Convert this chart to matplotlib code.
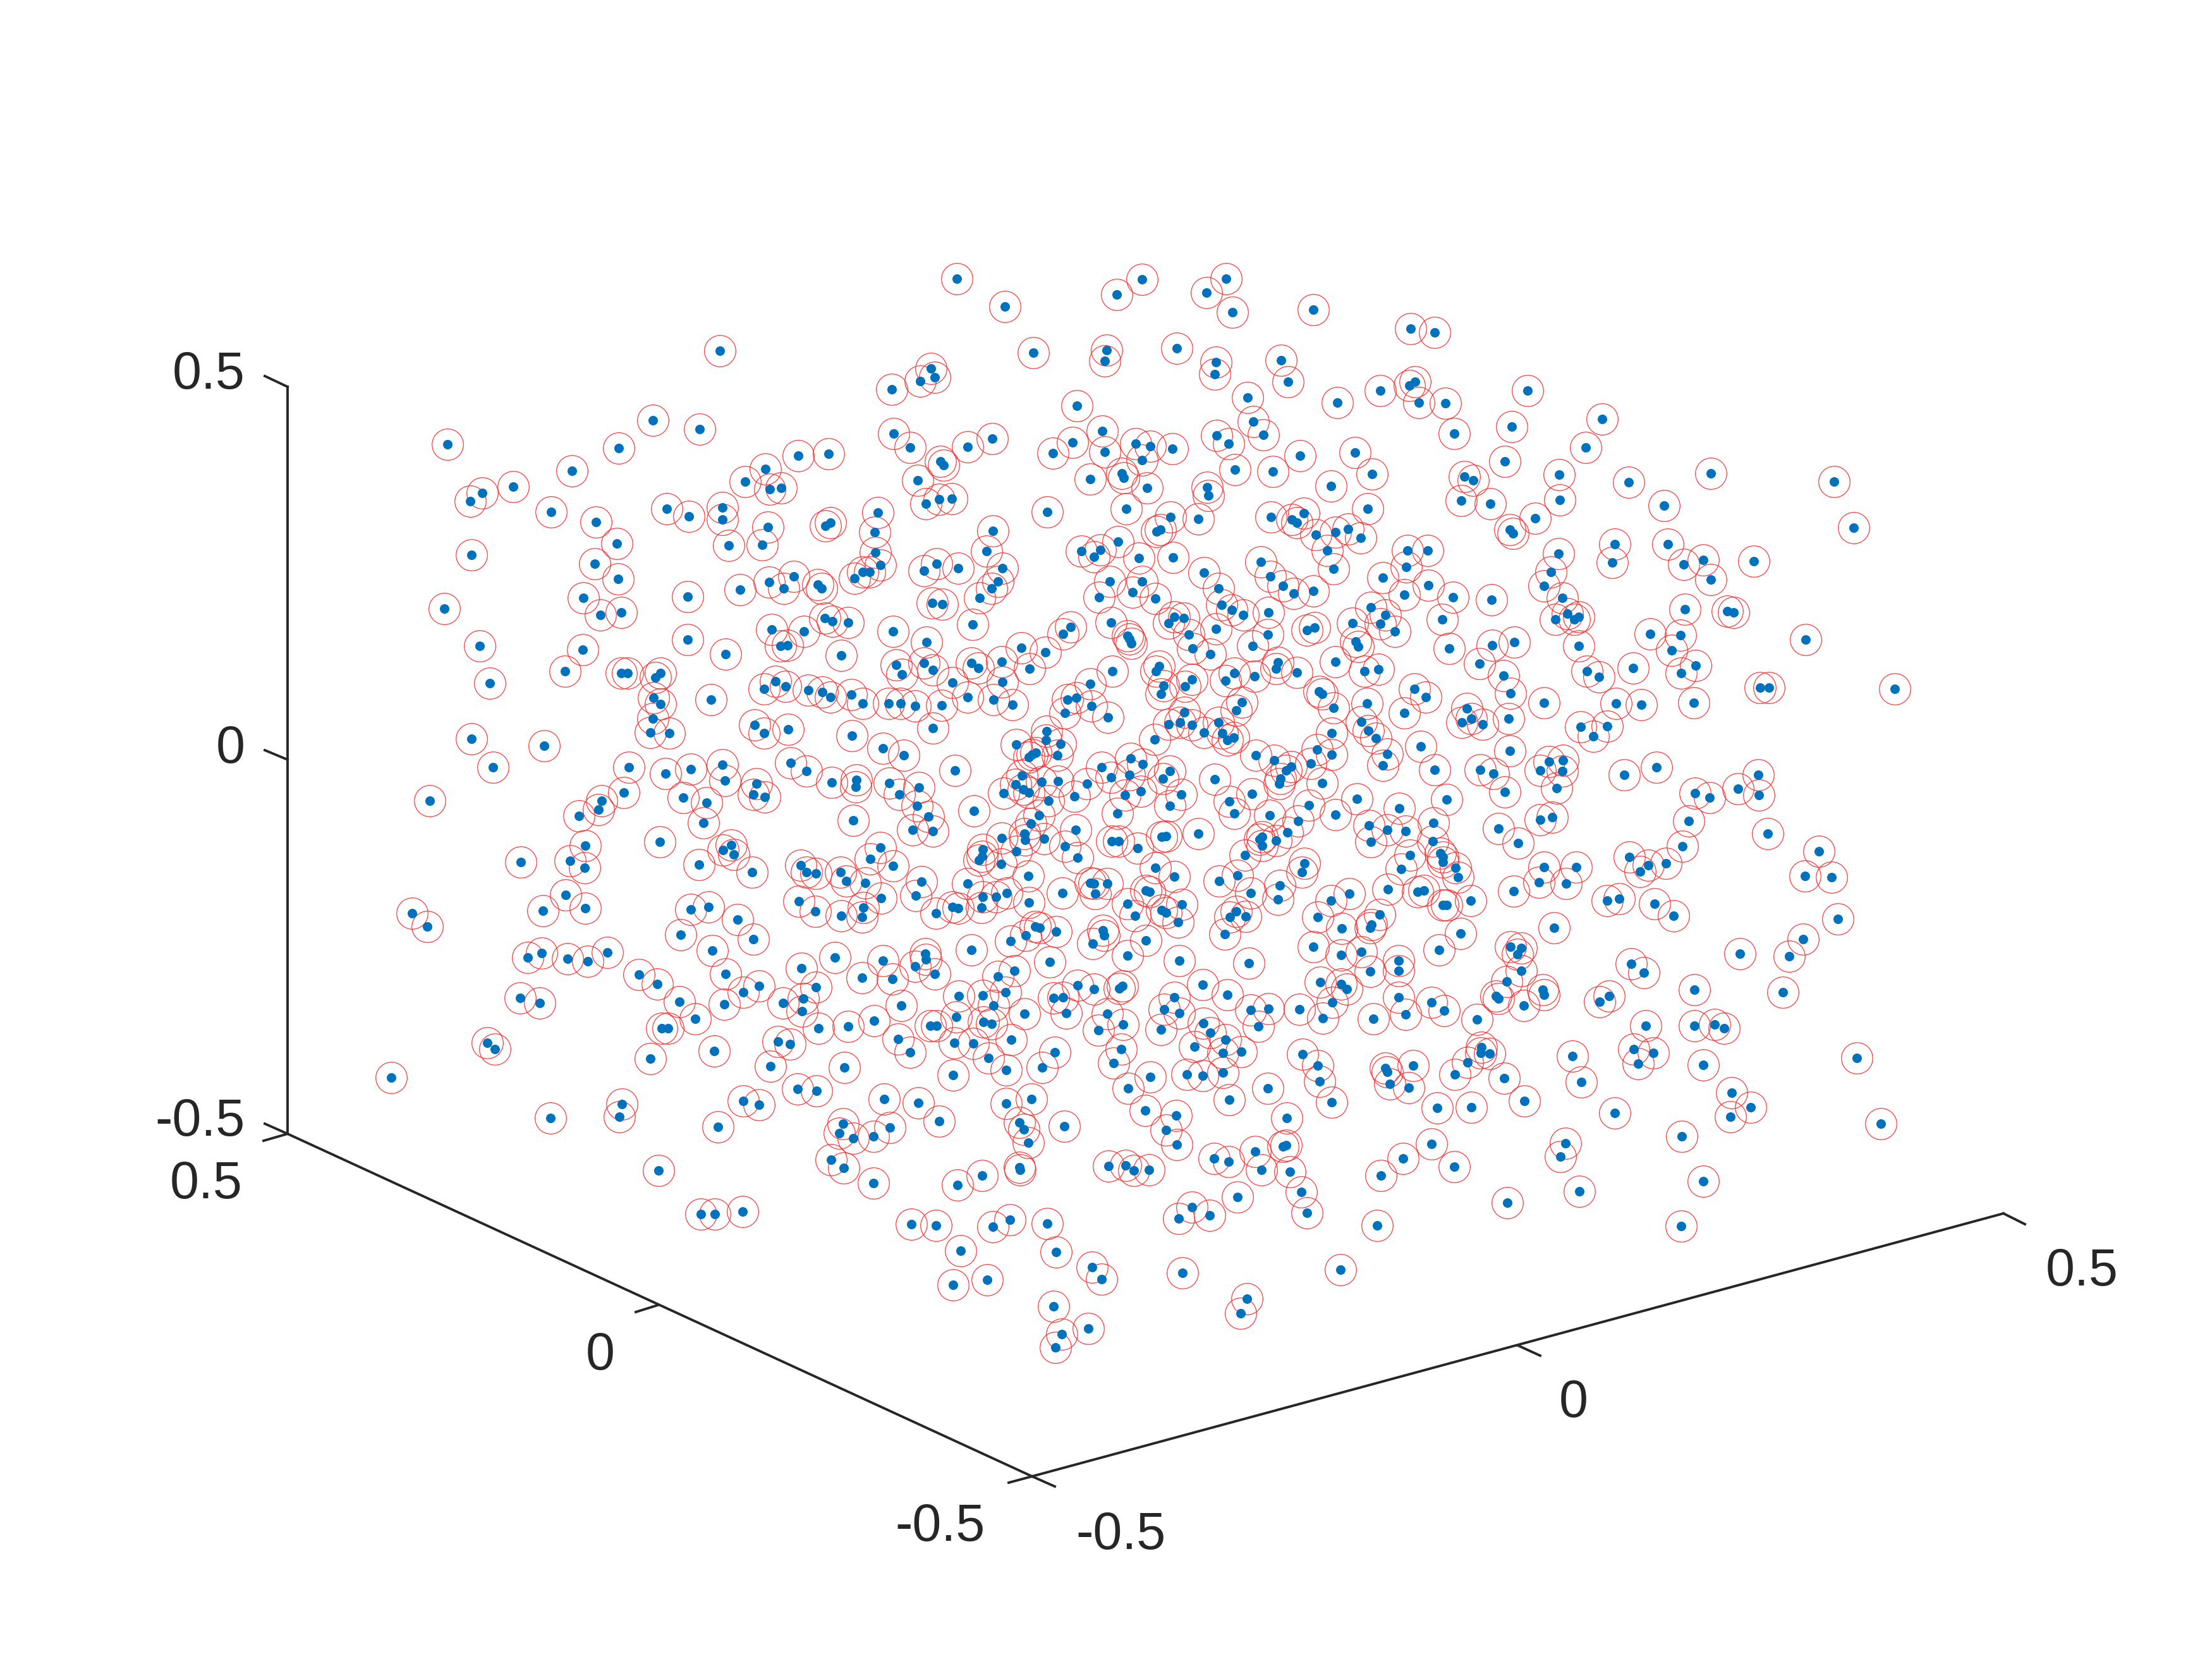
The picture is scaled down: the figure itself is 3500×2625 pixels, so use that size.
import numpy as np
import matplotlib
matplotlib.use('Agg')
import matplotlib.pyplot as plt

plt.rcParams['font.family'] = ['Liberation Sans', 'DejaVu Sans']

# points, one list per crop of the reference
# each crop is 820x620 px, stored as read at 1568x1568
crop_a = [(1107,392),(905,670),(1046,706),(283,767),(801,781),(1344,812),(1436,805),(1244,866),(1183,916),(660,872),(1258,945),(1292,940),(481,935),(388,961),(352,993),(596,1037),(947,1025),(1014,1054),(1114,1020),(1114,1066),(733,1078),(1253,1097),(1441,1079),(1426,1092),(796,1164),(1134,1172),(1235,1168),(356,1209),(728,1245),(799,1304),(1256,1317),(1330,1296),(1300,1342),(1168,1347),(1404,1328),(1415,1342),(1515,1303),(1539,1277),(1560,1277),(1009,1376),(695,1381),(808,1438),(746,1449),(273,1424),(1425,1463),(1448,1474),(1495,1479),(1264,1508),(1362,1515),(1009,1548)]

crop_b = [(257,103),(817,105),(1071,103),(739,168),(1011,160),(401,216),(1090,238),(1335,228),(488,400),(710,389),(703,432),(922,382),(1040,437),(1037,486),(1237,429),(1258,517),(177,464),(190,498),(145,513),(60,547),(1135,579),(1407,600),(1538,552),(620,613),(1152,676),(696,713),(65,724),(607,758),(364,744),(289,777),(114,780),(1042,730),(1184,729),(1079,763),(798,763),(842,775),(908,785),(546,801),(704,797),(817,830),(207,834),(217,850),(1294,813),(1461,800),(1513,885),(1097,868),(1213,876),(137,911),(659,905),(756,882),(761,901),(832,940),(1388,934),(1014,937),(1017,971),(162,1005),(203,986),(240,985),(769,1024),(17,1040),(903,1057),(986,1064),(530,1038),(1207,1058),(1269,1067),(1284,1081),(1306,1043),(1499,1025),(8,1118),(366,1112),(860,1115),(872,1108),(1402,1118),(1439,1105),(1343,1127),(1478,1141),(743,1156),(633,1194),(691,1189),(672,1216),(347,1194),(10,1200),(807,1222),(910,1219),(1376,1190),(1175,1237),(24,1249),(195,1245),(156,1273),(260,1262),(393,1263),(1003,1279),(1205,1295),(1396,1265),(1544,1301),(718,1315),(817,1315),(380,1316),(362,1344),(1047,1344),(1243,1333),(1276,1362),(1335,1353),(687,1379),(788,1357),(856,1384),(325,1381),(182,1402),(212,1405),(1058,1409),(1087,1430),(1123,1450),(1198,1440),(1509,1420),(1552,1449),(913,1456),(943,1462),(897,1482),(1453,1481),(1538,1484),(722,1479),(304,1487),(600,1497),(577,1524),(63,1515),(1040,1505),(1339,1500),(1315,1509),(958,1528),(1197,1527),(773,1532),(778,1545),(783,1562),(165,1557),(1463,1555)]

crop_c = [(61,304),(133,319),(74,515),(57,531),(414,552),(86,600),(166,603),(640,666),(367,695),(194,724),(591,780),(346,835),(511,888),(223,896),(251,911),(720,917),(969,882),(1342,916),(214,992),(302,1005),(513,989),(828,1012),(437,1061),(361,1107),(371,1122),(1402,1101),(679,1165),(839,1165),(51,1191),(112,1190),(508,1205),(47,1258),(485,1276),(672,1238),(888,1246),(947,1230),(1099,1233),(970,1307),(465,1332),(115,1331),(42,1367),(190,1378),(305,1389),(520,1382),(891,1426),(1020,1433),(1039,1438),(535,1444),(570,1456),(557,1466),(499,1466),(157,1468),(13,1514),(785,1526),(877,1529),(1256,1547),(374,1558)]

crop_d = [(380,5),(692,19),(1124,38),(1474,43),(1290,5),(1312,3),(638,106),(809,113),(827,113),(927,114),(912,131),(1276,146),(1240,177),(1306,167),(1374,181),(1416,190),(1442,211),(1505,200),(1539,236),(411,155),(907,212),(927,237),(1081,221),(904,297),(897,351),(955,354),(1212,320),(1241,353),(1313,339),(1506,365),(356,376),(575,404),(420,491),(832,491),(942,515),(1020,497),(1115,481),(1122,543),(1321,472),(1369,505),(1445,551),(1520,541),(1518,570),(1217,556),(1208,600),(1242,610),(817,593),(997,612),(1066,633),(750,625),(739,660),(229,625),(681,686),(1058,714),(1510,704),(699,805),(925,790),(1141,802),(1116,821),(1150,840),(653,864),(505,870),(698,892),(1044,879),(1205,911),(1352,883),(1369,911),(1397,916),(1472,911),(1490,945),(1547,954),(1563,857),(641,1002),(1346,1027),(699,1055),(571,1065),(1020,1060),(1072,1050),(1396,1068),(1542,1051),(1474,1085),(1537,1091),(1161,1100),(175,1076),(222,1128),(988,1160),(1208,1178),(1085,1224),(526,1252),(568,1234),(646,1256),(707,1266),(766,1232),(1455,1252),(1353,1296),(863,1319),(1125,1318),(1538,1333),(917,1357),(1226,1366),(1178,1391),(1398,1371),(984,1428),(503,1413),(563,1435),(1121,1440),(1298,1433),(1360,1417),(1356,1468),(1032,1498),(932,1535),(951,1535),(1406,1535),(1496,1528)]

crop_e = [(451,12),(523,30),(969,14),(1022,38),(1151,5),(1471,8),(73,81),(89,120),(157,73),(183,102),(301,73),(321,94),(392,69),(477,97),(727,106),(869,85),(859,106),(1227,72),(1222,96),(1401,69),(1095,113),(1068,143),(1157,127),(1285,112),(1490,107),(1531,98),(242,153),(393,149),(659,158),(968,138),(946,168),(882,165),(874,197),(1352,188),(1362,198),(49,234),(86,236),(130,245),(211,244),(288,210),(368,221),(424,239),(590,219),(617,212),(664,245),(584,272),(713,291),(1119,229),(1101,264),(1497,235),(1395,253),(944,270),(184,335),(897,318),(932,312),(967,320),(1047,310),(1479,309),(1500,344),(1523,374),(1004,352),(1059,355),(1074,381),(1093,373),(855,380),(1390,353),(528,347),(525,383),(569,398),(435,400),(32,414),(96,443),(560,442),(495,433),(484,440),(474,450),(1347,419),(1390,439),(1160,442),(782,455),(818,477),(1558,438),(1544,482),(1216,464),(1267,489),(1253,503),(1327,476),(250,503),(694,490),(900,505),(722,530),(779,520),(880,536),(453,523),(434,558),(513,550),(563,547),(1037,539),(1236,535),(1231,556),(1361,553),(51,553),(141,571),(457,578),(474,591),(397,594),(651,556),(82,599),(612,608),(764,603),(813,586),(935,600),(1150,598),(1467,618),(534,624),(1080,627),(135,645),(307,664),(901,645),(1322,643),(742,676),(1095,675),(1203,684),(1401,681),(504,684),(171,687),(1288,705),(480,715),(1502,723),(1558,740),(122,742),(183,745),(616,741),(392,773),(461,757),(463,781),(521,777),(724,786),(745,786),(876,770),(889,767),(986,755),(1256,751),(1179,769),(1172,780),(1222,784),(1179,805),(1508,789),(25,812),(334,820),(583,808),(803,815),(435,827),(332,848),(323,862),(622,852),(1128,841),(390,877),(64,885),(1308,876),(1301,911),(856,892),(913,927),(473,926),(1106,923),(150,949),(289,956),(659,953),(672,956),(711,956),(1049,946),(1233,964),(1560,979),(575,995),(674,997),(827,985),(840,990),(407,994),(1443,996),(1145,995),(132,1005),(334,1009),(375,1009),(1389,1023),(26,1014),(474,1031),(1228,1018),(772,1037),(937,1039),(243,1049),(260,1055),(330,1053),(876,1063),(889,1073),(1101,1068),(193,1075),(795,1086),(1083,1089),(1130,1087),(1348,1089),(1535,1081),(925,1110),(1510,1120),(1506,1132),(493,1128),(507,1133),(557,1149),(465,1163),(698,1144),(702,1163),(1421,1135),(418,1185),(667,1197),(827,1183),(1066,1159),(1335,1209),(300,1222),(161,1236),(163,1260),(32,1264),(773,1244),(537,1270),(930,1264),(1140,1274),(1419,1242),(1480,1229),(130,1286),(430,1305),(189,1318),(381,1327),(1506,1307),(62,1337),(622,1362),(672,1379),(757,1366),(747,1377),(1000,1360),(1356,1350),(1418,1357),(1436,1379),(403,1392),(261,1406),(335,1403),(1075,1401),(548,1413),(578,1412),(913,1410),(1392,1432),(368,1444),(88,1445),(884,1459),(1146,1462),(1199,1457),(1293,1460),(460,1477),(587,1474),(711,1478),(930,1474),(1364,1494),(255,1490),(5,1505),(1517,1498),(175,1526),(195,1525),(337,1509),(362,1517),(1002,1515),(760,1521),(1169,1528),(685,1543),(873,1541),(1022,1553)]

crop_f = [(178,16),(308,3),(569,5),(850,22),(269,75),(735,94),(595,106),(631,129),(924,84),(879,114),(343,124),(1119,172),(1145,171),(1526,178),(72,178),(107,210),(364,194),(465,233),(682,235),(760,241),(917,232),(231,255),(43,273),(244,296),(217,310),(279,318),(358,297),(576,330),(655,325),(613,367),(92,406),(362,424),(479,469),(522,464),(521,507),(454,504),(134,501),(271,500),(311,517),(805,490),(708,522),(1112,520),(502,573),(1052,576),(1114,603),(347,589),(921,594),(965,612),(171,619),(26,656),(454,700),(490,691),(903,705),(130,713),(327,737),(46,747),(1142,755),(129,787),(387,793),(883,808),(1297,826),(152,834),(60,842),(158,851),(159,870),(723,850),(833,874),(781,883),(756,908),(197,894),(464,889),(562,890),(32,897),(205,931),(1255,926),(1335,931),(450,950),(532,955),(372,987),(101,984),(83,990),(692,1016),(655,1025),(243,1023),(159,1043),(171,1042),(799,1038),(857,1085),(1354,1098),(495,1132),(212,1155),(1248,1179),(148,1221),(363,1210),(395,1213),(385,1240),(1058,1237),(1207,1247),(25,1264),(728,1277),(395,1306),(25,1305),(767,1312),(351,1348),(919,1381),(460,1380),(464,1401),(319,1405),(326,1416),(1188,1391),(662,1405),(633,1430),(25,1410),(125,1431),(404,1445),(162,1465),(45,1479),(262,1500),(772,1526),(920,1526),(981,1519),(1009,1534)]

crop_g = [(403,25),(426,51),(1282,19),(1319,31),(897,88),(1089,59),(1260,120),(1484,125),(113,165),(1343,211),(1400,217),(1177,259),(1225,274),(811,271),(803,322),(594,325),(1102,361),(1480,350),(1468,388),(1511,408),(1444,492),(1481,525),(922,537),(1050,711),(1091,711),(1176,700)]

crop_h = [(79,10),(420,13),(114,63),(249,25),(305,27),(352,86),(406,135),(245,155),(552,62),(515,125),(753,50),(731,105),(976,40),(1069,12),(1061,65),(1116,60),(1302,71),(1348,116),(1354,179),(1552,127),(1558,142),(1565,190),(842,162),(952,153),(1000,157),(1061,145),(775,207),(1197,208),(36,251),(139,266),(482,251),(406,269),(1081,253),(1390,263),(826,295),(919,317),(1255,326),(203,339),(445,343),(458,373),(53,364),(582,358),(889,375),(3,399),(473,424),(922,433),(1253,435),(1243,440),(1158,460),(1035,489),(1079,500),(716,518),(766,517),(791,536),(837,533),(446,523),(448,533),(1178,533),(1264,541),(1540,556),(332,556),(3,587),(258,594),(1299,622),(1105,642),(968,682),(1021,716),(927,728),(1315,705),(417,734),(365,762),(119,751),(194,757),(529,748),(1528,755),(267,858),(557,862),(666,922),(694,972),(939,946),(1416,934),(348,973),(245,995),(1133,1050),(1114,1107),(549,1080),(653,1169),(574,1190),(554,1245)]

crop_i = [(275,42),(274,66),(301,68),(234,104),(69,116),(195,153),(56,205),(345,166),(406,259),(141,286),(245,283),(551,79),(577,182),(736,50),(796,66),(749,110),(947,115),(1411,85),(1033,226),(1089,284),(1029,321),(678,307),(1483,349),(882,399),(124,429),(529,427),(514,481),(38,487),(193,521),(572,620),(947,580),(353,666),(879,758)]

crop_left = [560, 1380, 2200]
crop_top = [400, 1020, 1640]

tick_names = ['0.5', '0', '-0.5']

# box corners of the projected axes, in px of the reference
z_top = (455, 612)
corner_left = (455, 1794)
corner_bottom = (1633, 2336)
corner_right = (3170, 1920)


def to_px(points, col, row):
    arr = np.array(points, dtype=float)
    return crop_left[col] + arr[:, 0] / 1.912, crop_top[row] + arr[:, 1] / 2.529


crops = [(crop_a, 0, 0), (crop_b, 1, 0), (crop_c, 2, 0),
         (crop_d, 0, 1), (crop_e, 1, 1), (crop_f, 2, 1),
         (crop_g, 0, 2), (crop_h, 1, 2), (crop_i, 2, 2)]
xs, ys = [], []
for pts, col, row in crops:
    x, y = to_px(pts, col, row)
    xs.append(x)
    ys.append(y)
xs = np.concatenate(xs)
ys = np.concatenate(ys)

fig = plt.figure(figsize=(10, 7.5), dpi=350)
ax = fig.add_axes([0, 0, 1, 1])
ax.set_xlim(0, 3500)
ax.set_ylim(2625, 0)
ax.axis('off')

line_col = '#262626'
for a, b in [(z_top, corner_left), (corner_left, corner_bottom), (corner_bottom, corner_right)]:
    ax.plot([a[0], b[0]], [a[1], b[1]], color=line_col, lw=0.8, solid_capstyle='projecting')

# tick stubs
ticks = [((455, 612), (419, 595)), ((455, 1202), (419, 1187)), ((455, 1794), (419, 1778)),
         ((455, 1794), (417, 1805)), ((1041, 2065), (1006, 2076)), ((1633, 2336), (1596, 2346)),
         ((1633, 2336), (1669, 2352)), ((2402, 2129), (2437, 2145)), ((3170, 1920), (3204, 1937))]
for a, b in ticks:
    ax.plot([a[0], b[0]], [a[1], b[1]], color=line_col, lw=0.8)

ax.plot(xs, ys, 'o', mfc='none', mec='#ff3030', mew=0.24, ms=10.2, zorder=3)
ax.plot(xs, ys, 'o', color='#0072bd', mew=0, ms=3.1, zorder=4)

fs = 17
shift = 7  # va='center' sits a bit high against the reference
ax.text(388, 586 + shift, tick_names[0], ha='right', va='center', fontsize=fs, color=line_col)
ax.text(388, 1178 + shift, tick_names[1], ha='right', va='center', fontsize=fs, color=line_col)
ax.text(388, 1768 + shift, tick_names[2], ha='right', va='center', fontsize=fs, color=line_col)
ax.text(384, 1867 + shift, tick_names[0], ha='right', va='center', fontsize=fs, color=line_col)
ax.text(950, 2138 + shift, tick_names[1], ha='center', va='center', fontsize=fs, color=line_col)
ax.text(1559, 2409 + shift, tick_names[2], ha='right', va='center', fontsize=fs, color=line_col)
ax.text(1702, 2422 + shift, tick_names[2], ha='left', va='center', fontsize=fs, color=line_col)
ax.text(2490, 2213 + shift, tick_names[1], ha='center', va='center', fontsize=fs, color=line_col)
ax.text(3237, 2005 + shift, tick_names[0], ha='left', va='center', fontsize=fs, color=line_col)

fig.savefig('out.png', dpi=350, facecolor='white')
